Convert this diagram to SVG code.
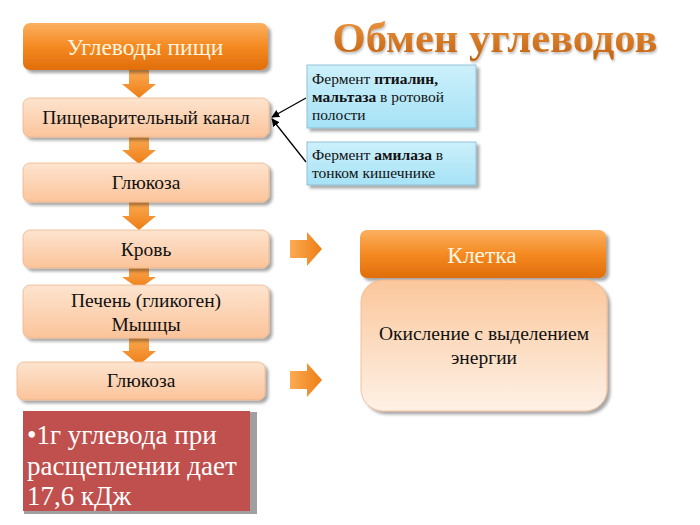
<svg xmlns="http://www.w3.org/2000/svg" width="700" height="525" viewBox="0 0 700 525">
<defs>
<linearGradient id="gOr" x1="0" y1="0" x2="0" y2="1">
<stop offset="0" stop-color="#fbb060"/><stop offset="0.5" stop-color="#f58a22"/><stop offset="1" stop-color="#e06d0a"/>
</linearGradient>
<linearGradient id="gPe" x1="0" y1="0" x2="0" y2="1">
<stop offset="0" stop-color="#fde4cf"/><stop offset="1" stop-color="#fbc49a"/>
</linearGradient>
<linearGradient id="gCell" x1="0" y1="0" x2="0" y2="1">
<stop offset="0" stop-color="#fbc79c"/><stop offset="1" stop-color="#fef1e6"/>
</linearGradient>
<linearGradient id="gBl" x1="0" y1="0" x2="0" y2="1">
<stop offset="0" stop-color="#ccf0fb"/><stop offset="1" stop-color="#a6e2f6"/>
</linearGradient>
<linearGradient id="gAr" x1="0" y1="0" x2="0" y2="1">
<stop offset="0" stop-color="#fbab55"/><stop offset="1" stop-color="#ee7d14"/>
</linearGradient>
<linearGradient id="gArH" x1="0" y1="0" x2="1" y2="0">
<stop offset="0" stop-color="#fbab55"/><stop offset="1" stop-color="#ee7d14"/>
</linearGradient>
<linearGradient id="gTitle" x1="0" y1="0" x2="0" y2="1">
<stop offset="0" stop-color="#f39a42"/><stop offset="1" stop-color="#c0600e"/>
</linearGradient>
<filter id="sh" x="-10%" y="-10%" width="130%" height="140%">
<feDropShadow dx="3" dy="3" stdDeviation="1.5" flood-color="#000" flood-opacity="0.35"/>
</filter>
<marker id="ah" viewBox="0 0 10 10" refX="9" refY="5" markerWidth="8" markerHeight="8" orient="auto" markerUnits="userSpaceOnUse">
<path d="M0,0 L10,5 L0,10 z" fill="#000"/>
</marker>
<path id="downArrow" d="M-10,0 H10 V14 H17 L0,28 L-17,14 H-10 Z"/>
<path id="rightArrow" d="M0,-9 H17 V-17 L32,0 L17,17 V9 H0 Z"/>
</defs>
<style>
.box{fill:url(#gPe);stroke:#f0b48a;stroke-width:0.8;filter:url(#sh)}
.or{fill:url(#gOr);filter:url(#sh)}
.bl{fill:url(#gBl);stroke:#7fb6cc;stroke-width:0.8;filter:url(#sh)}
text{font-family:Liberation Serif, DejaVu Serif, serif}
.t{font-size:19.5px;fill:#111;text-anchor:middle}
.tw{font-size:23.5px;fill:#fff5e0;text-anchor:middle}
.tb{font-size:15.5px;fill:#111}
.tr{font-size:27px;fill:#fff}
.da{fill:url(#gAr)}
.ra{fill:url(#gArH)}
</style>

<text x="495" y="52" font-weight="bold" font-size="42.5" fill="url(#gTitle)" text-anchor="middle" style="filter:drop-shadow(1px 2px 1px rgba(0,0,0,0.25))">Обмен углеводов</text>

<g id="connectors">
<use href="#downArrow" class="da" x="139" y="70"/>
<use href="#downArrow" class="da" x="139" y="136"/>
<use href="#downArrow" class="da" x="139" y="202"/>
<use href="#downArrow" class="da" transform="translate(139,265) scale(1,0.85)"/>
<use href="#downArrow" class="da" x="139" y="337"/>
<use href="#rightArrow" class="ra" x="290" y="249"/>
<use href="#rightArrow" class="ra" x="290" y="380"/>
<line x1="306" y1="98" x2="272" y2="117" stroke="#000" stroke-width="1.3" marker-end="url(#ah)"/>
<line x1="306" y1="162" x2="272" y2="119" stroke="#000" stroke-width="1.3" marker-end="url(#ah)"/>
</g>

<g id="n1"><rect class="or" x="23" y="23" width="245" height="47" rx="7"/><text class="tw" x="145" y="55">Углеводы пищи</text></g>
<g id="n2"><rect class="box" x="23" y="98" width="246" height="39" rx="7"/><text class="t" x="146" y="124">Пищеварительный канал</text></g>
<g id="n3"><rect class="box" x="23" y="163" width="246" height="39" rx="7"/><text class="t" x="146" y="189">Глюкоза</text></g>
<g id="n4"><rect class="box" x="23" y="230" width="246" height="38" rx="7"/><text class="t" x="146" y="256">Кровь</text></g>
<g id="n5"><rect class="box" x="23" y="285" width="246" height="53" rx="7"/><text class="t" x="146" y="307">Печень (гликоген)</text><text class="t" x="146" y="331">Мышцы</text></g>
<g id="n6"><rect class="box" x="17" y="362" width="248" height="38" rx="7"/><text class="t" x="141" y="387">Глюкоза</text></g>

<g id="n7"><rect class="bl" x="307" y="65" width="169" height="63"/>
<text class="tb" x="312" y="84">Фермент <tspan font-weight="bold">птиалин,</tspan></text>
<text class="tb" x="312" y="102"><tspan font-weight="bold">мальтаза</tspan> в ротовой</text>
<text class="tb" x="312" y="120">полости</text></g>
<g id="n8"><rect class="bl" x="307" y="142" width="169" height="43"/>
<text class="tb" x="312" y="160">Фермент <tspan font-weight="bold">амилаза</tspan> в</text>
<text class="tb" x="312" y="178">тонком кишечнике</text></g>

<g id="n9"><rect class="or" x="360" y="230" width="246" height="48" rx="7"/><text class="tw" x="482" y="263">Клетка</text></g>
<g id="n10"><rect x="361" y="280" width="246" height="131" rx="22" fill="url(#gCell)" stroke="#f0b48a" stroke-width="0.8" filter="url(#sh)"/>
<text class="t" x="484" y="340">Окисление с выделением</text><text class="t" x="484" y="364">энергии</text></g>

<g id="n11"><rect x="24" y="412" width="233" height="102" fill="#a0a0a0"/><rect x="23" y="411" width="227" height="100" fill="#c0504d"/>
<text class="tr" x="27" y="444">•1г углевода при</text>
<text class="tr" x="27" y="475">расщеплении дает</text>
<text class="tr" x="27" y="505">17,6 кДж</text></g>
</svg>
